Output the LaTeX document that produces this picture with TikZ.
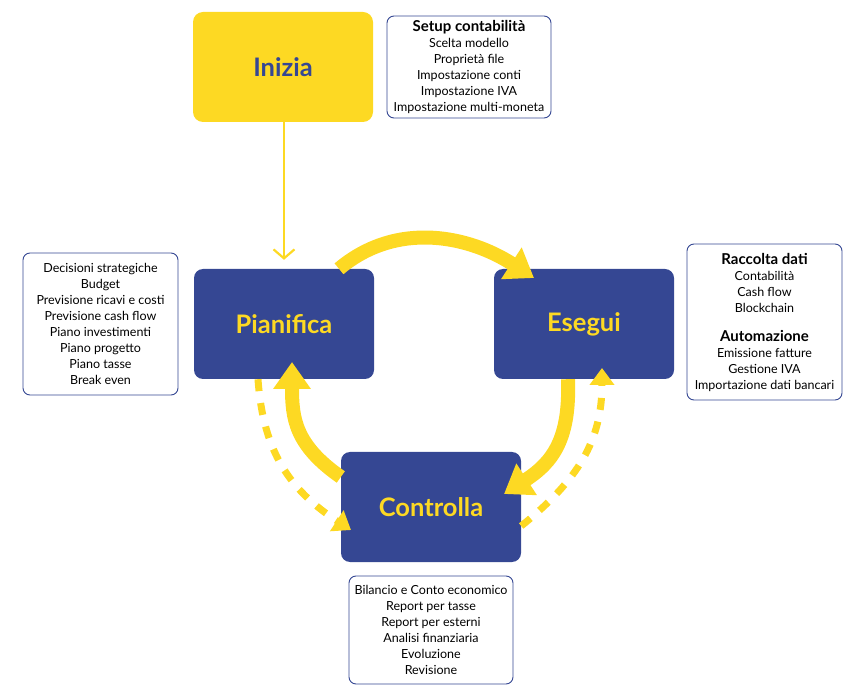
\documentclass[tikz,border=0pt]{standalone}
\usepackage{fontspec}
\setmainfont{Lato}
\usetikzlibrary{arrows.meta}
\definecolor{myyellow}{RGB}{253,217,35}
\definecolor{myblue}{RGB}{53,71,147}
\begin{document}
\begin{tikzpicture}[x=1pt,y=-1pt,
  stage/.style={rectangle, rounded corners=9pt, fill=myblue, minimum width=180pt, minimum height=110pt, inner sep=0pt, text=myyellow, font=\fontsize{25.5}{28}\selectfont\bfseries},
  info/.style={rectangle, rounded corners=7pt, draw=myblue, line width=0.9pt, fill=white, inner sep=0pt, align=center, font=\fontsize{12.5}{16}\selectfont},
  cyc/.style={draw=myyellow, line width=14pt, -{Triangle[length=27pt,width=36pt]}},
  dcyc/.style={draw=myyellow, line width=7pt, dash pattern=on 12pt off 12pt, -{Triangle[length=17pt,width=24pt]}},
]
\useasboundingbox (0,0) rectangle (860,700);
\node[rectangle, rounded corners=10pt, fill=myyellow, minimum width=180pt, minimum height=110pt, inner sep=0pt, text=myblue, font=\fontsize{25.5}{28}\selectfont\bfseries] (ini) at (283,67) {Inizia};
\node[info, minimum width=164pt, minimum height=102pt] (setup) at (469,67) {{\fontsize{15}{17}\selectfont\bfseries Setup contabilità}\\ Scelta modello\\ Proprietà file\\ Impostazione conti\\ Impostazione IVA\\ Impostazione multi-moneta};
\node[stage] (pia) at (284,324) {Pianifica};
\node[stage] (ese) at (584,324) {Esegui};
\node[stage] (con) at (431,507) {Controlla};
\node[info, minimum width=155pt, minimum height=142pt] (plan) at (100.5,324) {Decisioni strategiche\\ Budget\\ Previsione ricavi e costi\\ Previsione cash flow\\ Piano investimenti\\ Piano progetto\\ Piano tasse\\ Break even};
\node[info, minimum width=155pt, minimum height=156pt] (exec) at (764.5,322) {{\fontsize{15}{17}\selectfont\bfseries Raccolta dati}\\ Contabilità\\ Cash flow\\ Blockchain\\[13pt] {\fontsize{15}{17}\selectfont\bfseries Automazione}\\ Emissione fatture\\ Gestione IVA\\ Importazione dati bancari};
\node[info, minimum width=164pt, minimum height=108pt] (ctrl) at (431,630) {Bilancio e Conto economico\\ Report per tasse\\ Report per esterni\\ Analisi finanziaria\\ Evoluzione\\ Revisione};
% start arrow
\draw[myyellow, line width=2.2pt, shorten >=9pt, -{Straight Barb[length=9pt,width=21pt]}] (ini.south -| 284,0) -- (pia.north -| 284,0);
% cycle arrows
\coordinate (t1) at (534,278);
\coordinate (t2) at (504,494);
\coordinate (t3) at (292,362);
\coordinate (t4) at (351,530);
\coordinate (t5) at (602,368);
\draw[cyc] ([xshift=55pt]pia.north) to[out=40,in=147] (t1);
\draw[cyc] ([xshift=-16pt]ese.south) to[out=-88,in=33,looseness=1.15] (t2);
\draw[cyc] ([yshift=30pt]con.west) to[out=145,in=-90,looseness=1.15] (t3);
\draw[dcyc] ([xshift=-26pt]pia.south) to[out=-86,in=147,looseness=1.05] (t4);
\draw[dcyc] ([yshift=-19pt]con.east) to[out=39,in=-90,looseness=1.05] (t5);
\end{tikzpicture}
\end{document}
